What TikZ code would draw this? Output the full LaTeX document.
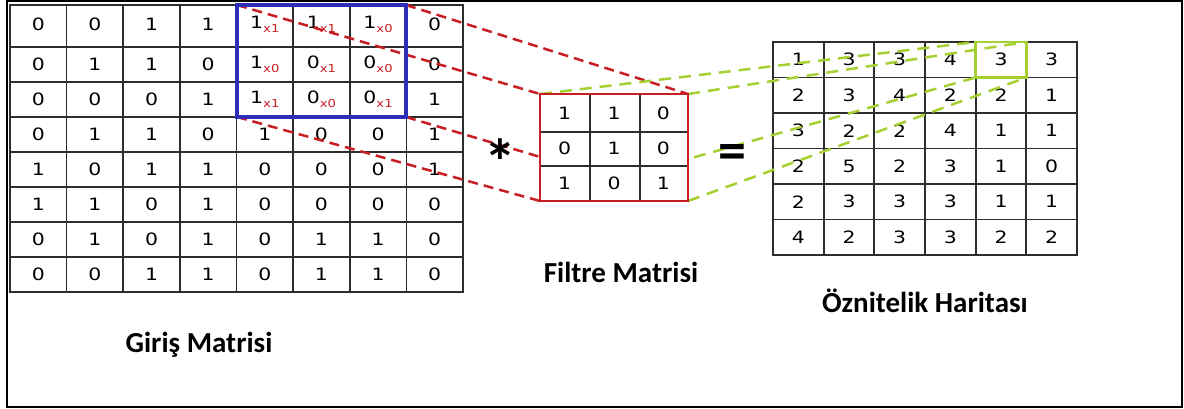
\documentclass[tikz,border=0pt]{standalone}
\usepackage{fontspec}
\usepackage{color}
\setmainfont{DejaVu Sans}
\newfontfamily\numfont{DejaVu Sans}[FakeStretch=1.2]
\newfontfamily\titlefont{Carlito}

\definecolor{dashred}{RGB}{200,30,35}
\definecolor{winblue}{RGB}{45,45,185}
\definecolor{limegreen}{RGB}{165,208,50}
\definecolor{gridgray}{RGB}{45,45,45}

% digit with its red weight below right
\newcommand{\wcell}[2]{#1\raisebox{-0.45ex}{\fontsize{11}{11}\selectfont\color{dashred}x#2}}

\begin{document}
\begin{tikzpicture}[%
      x=1pt, y=-1pt,
      num/.style={font=\numfont\fontsize{17}{17}\selectfont},
      title/.style={font=\titlefont\bfseries\fontsize{29}{29}\selectfont, anchor=base},
      gridline/.style={color=gridgray, line width=1.7pt},
      ]
      \useasboundingbox (0,0) rectangle (1184,409);
      \draw [color=black, line width=2pt] (7,1) rectangle (1182,407);

      % corners of the window, the filter and the output cell
      \coordinate (w-nw) at (237,5);
      \coordinate (w-ne) at (406,5);
      \coordinate (w-sw) at (237,117);
      \coordinate (w-se) at (406,117);
      \coordinate (f-nw) at (540,94);
      \coordinate (f-ne) at (688,94);
      \coordinate (f-sw) at (540,201);
      \coordinate (f-se) at (688,201);
      \coordinate (o-nw) at (975.7,42);
      \coordinate (o-ne) at (1026.3,42);
      \coordinate (o-sw) at (975.7,77.5);
      \coordinate (o-se) at (1026.3,77.5);

      % input matrix
      \draw [gridline] (10,5) rectangle (463,292);
      \foreach \k in {1,...,7}
        \draw [gridline] ({10+56.625*\k},5) -- ({10+56.625*\k},292);
      \foreach \k in {0,...,6}
        \draw [gridline] (10,{47+35*\k}) -- (463,{47+35*\k});
      \foreach \row [count=\j] in {%
          {0,0,1,1,\wcell11,\wcell11,\wcell10,0},
          {0,1,1,0,\wcell10,\wcell01,\wcell00,0},
          {0,0,0,1,\wcell11,\wcell00,\wcell01,1},
          {0,1,1,0,1,0,0,1},
          {1,0,1,1,0,0,0,1},
          {1,1,0,1,0,0,0,0},
          {0,1,0,1,0,1,1,0},
          {0,0,1,1,0,1,1,0}}
        \foreach \v [count=\i] in \row
          \node [num] (in-\j-\i) at ({10+56.625*(\i-0.5)},{\j==1 ? 24 : 64+35*(\j-2)}) {\v};

      % output matrix
      \draw [gridline] (773,42) rectangle (1077,255);
      \foreach \k in {1,...,5}
        \draw [gridline] ({773+50.667*\k},42) -- ({773+50.667*\k},255);
      \foreach \k in {1,...,5}
        \draw [gridline] (773,{42+35.5*\k}) -- (1077,{42+35.5*\k});
      \foreach \row [count=\j] in {%
          {1,3,3,4,3,3},
          {2,3,4,2,2,1},
          {3,2,2,4,1,1},
          {2,5,2,3,1,0},
          {2,3,3,3,1,1},
          {4,2,3,3,2,2}}
        \foreach \v [count=\i] in \row
          \node [num] (out-\j-\i) at ({773+50.667*(\i-0.5)},{42+35.5*(\j-0.5)}) {\v};

      % projection lines
      \foreach \c in {nw,ne,sw,se}
        \draw [color=dashred, line width=2.5pt, dash pattern=on 10pt off 6pt] (w-\c) -- (f-\c);
      \foreach \c in {nw,ne,sw,se}
        \draw [color=limegreen, line width=2.5pt, dash pattern=on 12pt off 8pt] (f-\c) -- (o-\c);

      \draw [color=winblue, line width=3.5pt] (w-nw) rectangle (w-se);
      \draw [color=limegreen, line width=2.5pt] (o-nw) rectangle (o-se);

      % filter
      \fill [white] (f-nw) rectangle (f-se);
      \draw [gridline] (590,94) -- (590,201);
      \draw [gridline] (640,94) -- (640,201);
      \draw [gridline] (540,131.7) -- (688,131.7);
      \draw [gridline] (540,165.7) -- (688,165.7);
      \draw [color=dashred, line width=2pt] (f-nw) rectangle (f-se);
      \foreach \row [count=\j] in {{1,1,0},{0,1,0},{1,0,1}}
        \foreach \v [count=\i] in \row
          \node [num] (flt-\j-\i) at ({540+49.33*(\i-0.5)},{113+35*(\j-1)}) {\v};

      \node [font=\titlefont\bfseries\fontsize{64}{64}\selectfont, anchor=base] (conv) at (500,185) {*};
      \node [font=\titlefont\bfseries\fontsize{56}{56}\selectfont, anchor=base] (equal) at (732,170) {=};

      \node [title] (lbl-in) at (199,352) {Giriş Matrisi};
      \node [title] (lbl-flt) at (621,282) {Filtre Matrisi};
      \node [title] (lbl-out) at (925,312) {Öznitelik Haritası};
      \end{tikzpicture}
\end{document}
